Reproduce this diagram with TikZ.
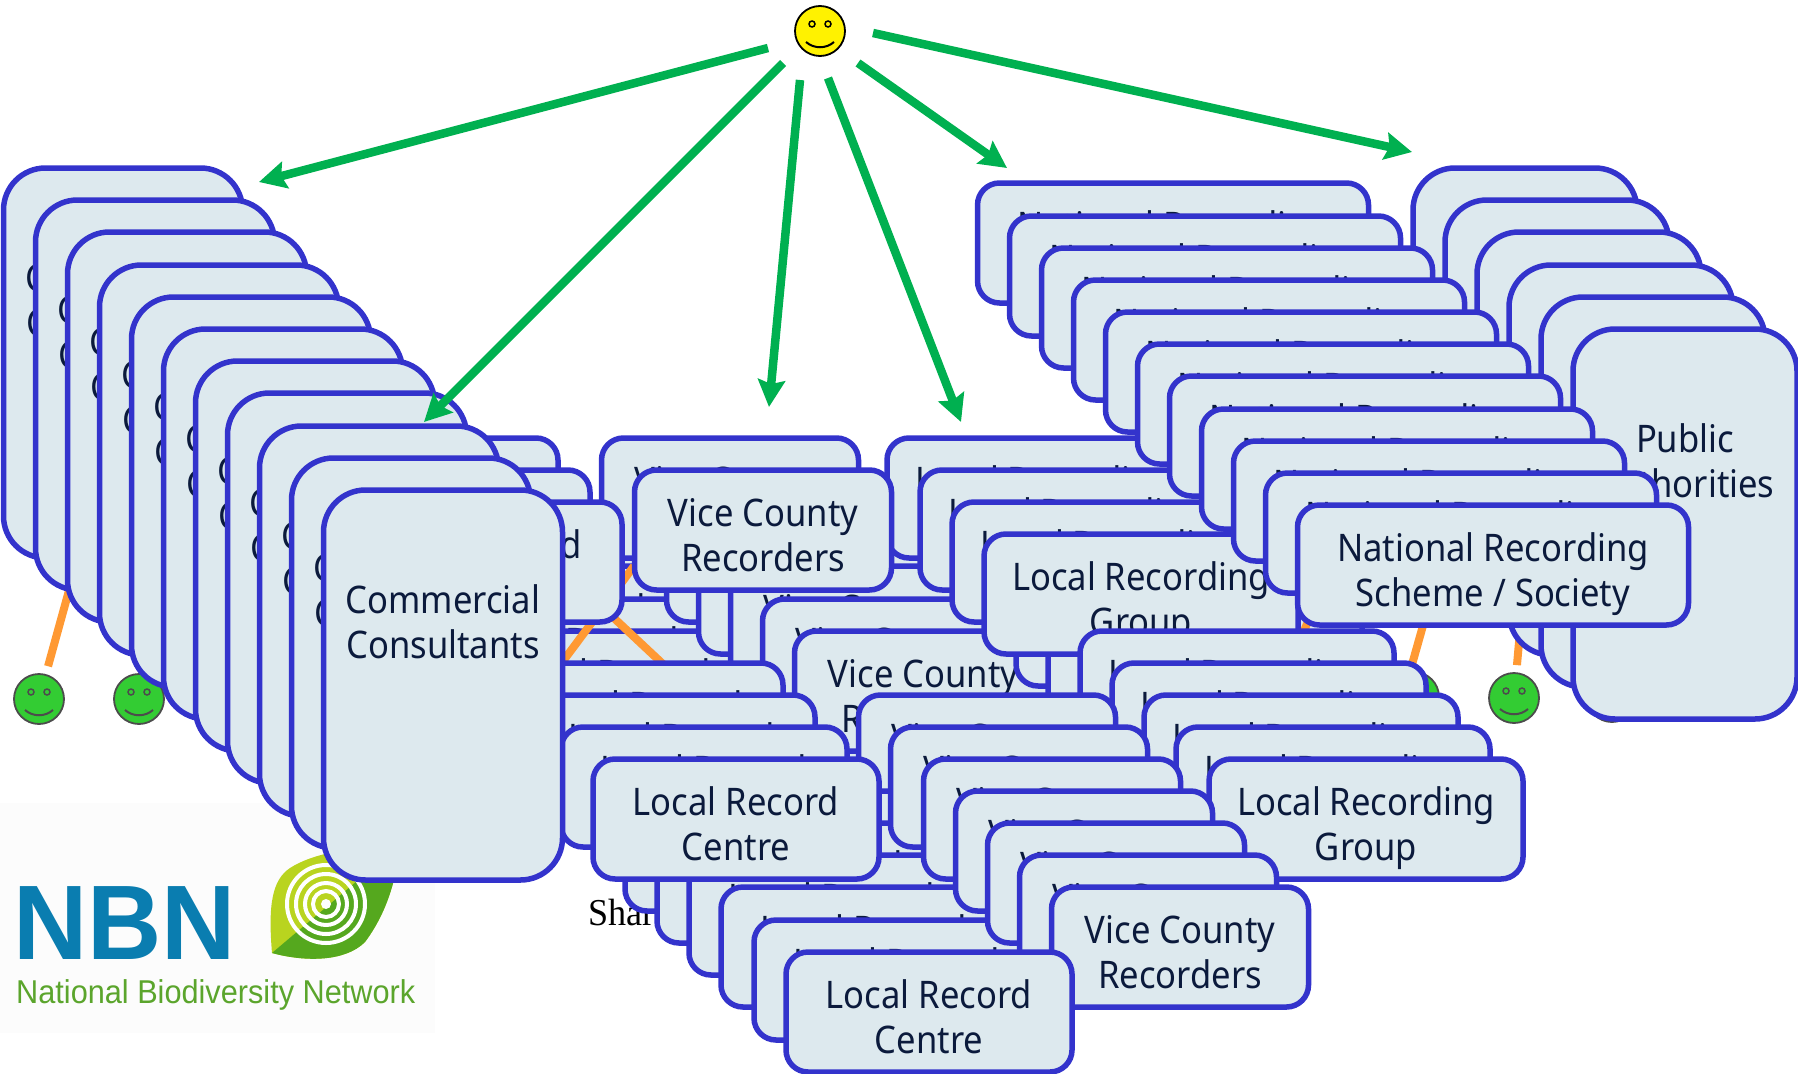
\documentclass[tikz,border=0pt]{standalone}
\usepackage{fontspec}
\usetikzlibrary{arrows.meta}
\newfontfamily\boxfont[FakeStretch=0.91]{Noto Sans}
\newfontfamily\logofont[FakeStretch=0.93]{Liberation Sans}
\newfontfamily\nbnfont[FakeStretch=0.97]{Liberation Sans}
\newfontfamily\sharfont[FakeStretch=0.95]{Liberation Serif}
\definecolor{boxline}{HTML}{3333CC}
\definecolor{boxfill}{HTML}{DDE9EE}
\definecolor{boxtext}{HTML}{0B1A3C}
\definecolor{arrowgreen}{HTML}{00B050}
\definecolor{linkorange}{HTML}{FF9933}
\definecolor{facegreen}{HTML}{33CC33}
\definecolor{nbnblue}{HTML}{0A7DB0}
\definecolor{nbngreen}{HTML}{5BA52C}
\definecolor{leaflime}{HTML}{B9D41F}
\definecolor{leafgreen}{HTML}{55A81E}
\tikzset{
  recbox/.style={draw=boxline,fill=boxfill,line width=5.5pt,rounded corners=22pt,inner sep=0pt,outer sep=0pt,
    align=center,text=boxtext,font=\boxfont\fontsize{38}{45}\selectfont,minimum height=120pt,text height=82pt,text depth=0pt},
  lrbox/.style={recbox,minimum width=286pt},
  vcbox/.style={recbox,minimum width=257pt},
  lgbox/.style={recbox,minimum width=314pt},
  nrbox/.style={recbox,minimum width=391pt},
  tallbox/.style={recbox,rounded corners=42pt,inner ysep=94pt,text height=74pt,text depth=128pt},
  ccbox/.style={tallbox,minimum width=239pt},
  pabox/.style={tallbox,minimum width=224pt},
  reach/.style={draw=arrowgreen,line width=8.5pt,-{Stealth[length=27pt,width=27pt,inset=4pt]}},
  link/.style={draw=linkorange,line width=8pt}
}
\newcommand{\smiley}[5]{
  \begin{scope}[shift={(#2,#3)}]
    \node[circle,draw=#5,fill=#4,line width=1.8pt,minimum size=50pt,inner sep=0pt] (#1) at (0,0) {};
    \draw[#5,line width=1.5pt] (-8,-7) circle (3pt) (8,-7) circle (3pt);
    \draw[#5,line width=2pt] (-14,11) .. controls (-6,18) and (6,18) .. (14,11);
  \end{scope}
}
\begin{document}
\begin{tikzpicture}[x=1pt,y=-1pt]
\useasboundingbox (0,0) rectangle (1798,1073);

\fill[white!99!black] (0,803) rectangle (435,1033);
\fill[leaflime] (272,953) .. controls (268,905) and (272,880) .. (290,868) .. controls (310,855) and (350,845) .. (400,848) .. controls (395,885) and (385,915) .. (365,942) .. controls (345,962) and (305,962) .. (272,953) -- cycle;
\begin{scope}
  \clip (272,953) .. controls (268,905) and (272,880) .. (290,868) .. controls (310,855) and (350,845) .. (400,848) .. controls (395,885) and (385,915) .. (365,942) .. controls (345,962) and (305,962) .. (272,953) -- cycle;
  \fill[leafgreen] (272,953) -- (350,887) -- (420,826) -- (420,980) -- (272,980) -- cycle;
\end{scope}
\draw[white,line width=4pt] (326,904) circle (39pt) (326,904) circle (30pt) (326,904) circle (21pt) (326,904) circle (13pt);
\fill[white] (326,904) circle (5pt);
\node[anchor=base west,inner sep=0pt,text=nbnblue,font=\nbnfont\bfseries\fontsize{106}{106}\selectfont] (nbn) at (13,959) {NBN};
\node[anchor=base west,inner sep=0pt,text=nbngreen,font=\logofont\fontsize{33}{33}\selectfont] (nbnname) at (16,1003) {National Biodiversity Network};

\smiley{s1}{39}{699}{facegreen}{black!70}
\smiley{s2}{139}{699}{facegreen}{black!70}
\smiley{s3}{1414}{697}{facegreen}{black!70}
\smiley{s4}{1514}{698}{facegreen}{black!70}
\smiley{s5}{1612}{697}{facegreen}{black!70}
\smiley{me}{820}{31}{yellow}{black}

\coordinate (c1) at (78,558);
\coordinate (c4) at (1521,620);
\coordinate (c3a) at (1411,668);
\coordinate (c3b) at (1424,622);
\draw[link,shorten <=34pt] (s1.center) -- (c1);
\draw[link,shorten <=33pt] (s4.center) -- (c4);
\draw[link] (c3a) -- (c3b);

\node[pabox] (pa0) at (1525,363) {Public\\Authorities};
\node[pabox] (pa1) at (1557,395) {Public\\Authorities};
\node[pabox] (pa2) at (1589,427) {Public\\Authorities};
\node[pabox] (pa3) at (1621,460) {Public\\Authorities};
\node[pabox] (pa4) at (1653,492) {Public\\Authorities};
\node[pabox] (pa5) at (1685,524) {Public\\Authorities};

\node[lrbox] (lr3) at (511,594) {Local Record\\Centre};
\node[lrbox] (lr4) at (543,626) {Local Record\\Centre};
\node[lrbox] (lr5) at (576,659) {Local Record\\Centre};
\node[lrbox] (lr6) at (608,691) {Local Record\\Centre};

\coordinate (c6a) at (634,566);
\coordinate (c6b) at (540,692);
\coordinate (c7a) at (600,605);
\coordinate (c7b) at (680,680);
\draw[link] (c6a) -- (c6b);
\draw[link] (c7a) -- (c7b);

\node[vcbox] (vc0) at (730,498) {Vice County\\Recorders};
\node[lrbox] (lr0) at (415,498) {Local Record\\Centre};
\node[lrbox] (lr1) at (447,530) {Local Record\\Centre};
\node[lrbox] (lr2) at (479,562) {Local Record\\Centre};
\node[vcbox] (vc2) at (795,562) {Vice County\\Recorders};
\node[vcbox] (vc3) at (827,594) {Vice County\\Recorders};
\node[vcbox] (vc4) at (859,626) {Vice County\\Recorders};
\node[vcbox] (vc5) at (891,659) {Vice County\\Recorders};
\node[vcbox] (vc7) at (955,723) {Vice County\\Recorders};
\node[vcbox] (vc6) at (923,691) {Vice County\\Recorders};

\node[lgbox] (lg0) at (1044,498) {Local Recording\\Group};
\node[lgbox] (lg1) at (1077,530) {Local Recording\\Group};
\node[lgbox] (lg2) at (1109,562) {Local Recording\\Group};
\node[vcbox] (vc1) at (763,530) {Vice County\\Recorders};
\node[lgbox] (lg4) at (1173,626) {Local Recording\\Group};
\node[lgbox] (lg5) at (1205,659) {Local Recording\\Group};

\coordinate (c8a) at (1312,612);
\coordinate (c8b) at (1296,650);
\draw[link] (c8a) -- (c8b);

\node[lgbox] (lg3)  at (1141,594) {Local Recording\\Group};
\node[lgbox] (lg6)  at (1237,691) {Local Recording\\Group};
\node[lgbox] (lg7)  at (1269,723) {Local Recording\\Group};
\node[lgbox] (lg8)  at (1301,755) {Local Recording\\Group};
\node[lgbox] (lg9)  at (1333,787) {Local Recording\\Group};
\node[lgbox] (lg10) at (1366,819) {Local Recording\\Group};

\node[anchor=base west,inner sep=0pt,text=black,font=\sharfont\fontsize{38}{38}\selectfont] (shar) at (588,925) {Shar};

\node[lrbox] (lr7)  at (640,723) {Local Record\\Centre};
\node[lrbox] (lr8)  at (672,755) {Local Record\\Centre};
\node[lrbox] (lr9)  at (704,787) {Local Record\\Centre};
\node[vcbox] (vc8)  at (987,755) {Vice County\\Recorders};
\node[lrbox] (lr11) at (768,851) {Local Record\\Centre};
\node[lrbox] (lr12) at (800,883) {Local Record\\Centre};
\node[lrbox] (lr13) at (832,915) {Local Record\\Centre};
\node[lrbox] (lr14) at (864,947) {Local Record\\Centre};
\node[lrbox] (lr15) at (897,980) {Local Record\\Centre};
\node[lrbox] (lr10) at (736,819) {Local Record\\Centre};
\node[vcbox] (vc9)  at (1019,787) {Vice County\\Recorders};
\node[vcbox] (vc10) at (1052,819) {Vice County\\Recorders};
\node[vcbox] (vc11) at (1084,851) {Vice County\\Recorders};
\node[vcbox] (vc12) at (1116,883) {Vice County\\Recorders};
\node[vcbox] (vc13) at (1148,915) {Vice County\\Recorders};
\node[vcbox] (vc14) at (1180,947) {Vice County\\Recorders};
\node[lrbox] (lr16) at (929,1012) {Local Record\\Centre};

\node[nrbox] (nr0)  at (1173,243) {National Recording\\Scheme / Society};
\node[nrbox] (nr1)  at (1205,276) {National Recording\\Scheme / Society};
\node[nrbox] (nr2)  at (1237,308) {National Recording\\Scheme / Society};
\node[nrbox] (nr3)  at (1269,340) {National Recording\\Scheme / Society};
\node[nrbox] (nr4)  at (1301,372) {National Recording\\Scheme / Society};
\node[nrbox] (nr5)  at (1333,404) {National Recording\\Scheme / Society};
\node[nrbox] (nr6)  at (1365,436) {National Recording\\Scheme / Society};
\node[nrbox] (nr7)  at (1397,469) {National Recording\\Scheme / Society};
\node[nrbox] (nr8)  at (1429,501) {National Recording\\Scheme / Society};
\node[nrbox] (nr9)  at (1461,533) {National Recording\\Scheme / Society};
\node[nrbox] (nr10) at (1493,565) {National Recording\\Scheme / Society};

\node[ccbox] (cc0)  at (123,363) {Commercial\\Consultants};
\node[ccbox] (cc1)  at (155,395) {Commercial\\Consultants};
\node[ccbox] (cc2)  at (187,427) {Commercial\\Consultants};
\node[ccbox] (cc3)  at (219,460) {Commercial\\Consultants};
\node[ccbox] (cc4)  at (251,492) {Commercial\\Consultants};
\node[ccbox] (cc5)  at (283,524) {Commercial\\Consultants};
\node[ccbox] (cc6)  at (315,556) {Commercial\\Consultants};
\node[ccbox] (cc7)  at (347,588) {Commercial\\Consultants};
\node[ccbox] (cc8)  at (379,621) {Commercial\\Consultants};
\node[ccbox] (cc9)  at (411,653) {Commercial\\Consultants};
\node[ccbox] (cc10) at (443,685) {Commercial\\Consultants};

\coordinate (a1) at (768,48);
\coordinate (b1) at (259,182);
\coordinate (a2) at (783,63);
\coordinate (b2) at (424,422);
\coordinate (a3) at (800,80);
\coordinate (b3) at (769,407);
\coordinate (a4) at (828,78);
\coordinate (b4) at (961,422);
\coordinate (a5) at (858,63);
\coordinate (b5) at (1007,168);
\coordinate (a6) at (873,33);
\coordinate (b6) at (1412,152);
\draw[reach] (a1) -- (b1);
\draw[reach] (a2) -- (b2);
\draw[reach] (a3) -- (b3);
\draw[reach] (a4) -- (b4);
\draw[reach] (a5) -- (b5);
\draw[reach] (a6) -- (b6);

\end{tikzpicture}
\end{document}
